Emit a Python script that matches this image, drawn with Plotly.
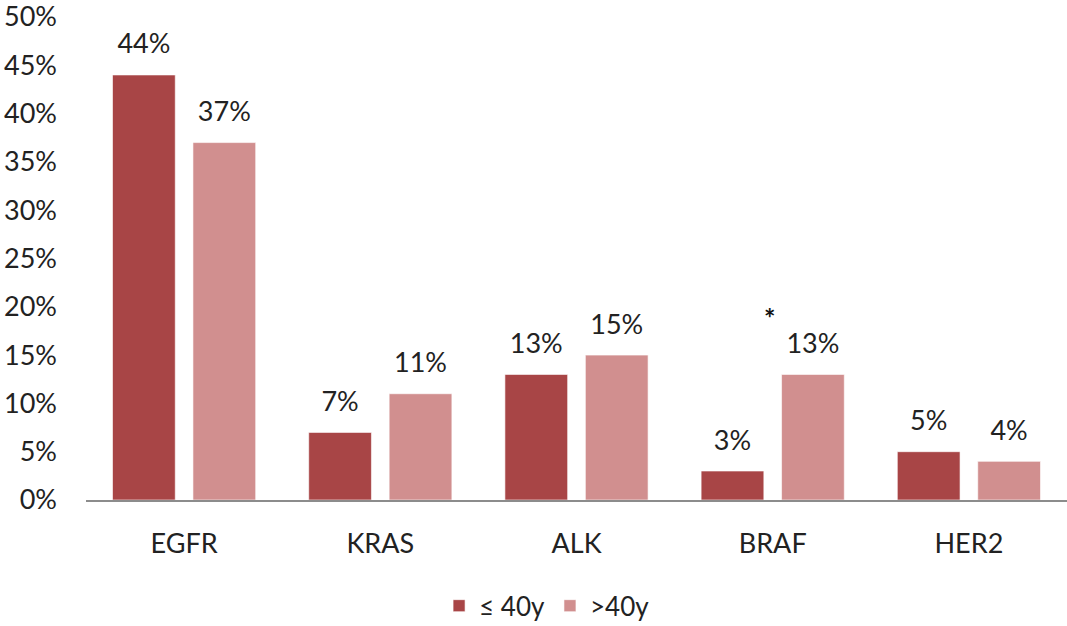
import plotly.graph_objects as go

categories = ["EGFR", "KRAS", "ALK", "BRAF", "HER2"]
young = [0.44, 0.07, 0.13, 0.03, 0.05]
old = [0.37, 0.11, 0.15, 0.13, 0.04]
series_names = ["≤ 40y", ">40y"]
y_ticks = [0, 0.05, 0.10, 0.15, 0.20, 0.25, 0.30, 0.35, 0.40, 0.45, 0.50]

FONT = "Lato"
FS = 27
dark = "#A84546"
light = "#D18F8F"

fig = go.Figure()
for i, (name, vals, col) in enumerate([(series_names[0], young, dark), (series_names[1], old, light)]):
    fig.add_trace(go.Bar(
        x=categories, y=vals, name=name, offsetgroup=str(i),
        marker=dict(color=col, line=dict(color="rgba(255,255,255,0.6)", width=1)),
        hoverinfo="skip",
    ))
for i, vals in enumerate([young, old]):
    fig.add_trace(go.Scatter(
        x=categories, y=vals, mode="markers+text", offsetgroup=str(i),
        marker=dict(size=22, color="rgba(0,0,0,0)"),
        text=[f"{v:.0%}" for v in vals], textposition="top center",
        textfont=dict(family=FONT, size=FS, color="#222"),
        showlegend=False, cliponaxis=False, hoverinfo="skip",
    ))

fig.add_annotation(x="BRAF", y=0.189, text="<b>*</b>", showarrow=False,
                   xshift=-3, font=dict(family=FONT, size=FS, color="#111"))

fig.update_layout(
    width=1067, height=626,
    margin=dict(l=86, r=0, t=17, b=126, autoexpand=False),
    paper_bgcolor="white", plot_bgcolor="white",
    barmode="group", bargap=0.18, bargroupgap=0.22,
    scattermode="group", scattergap=0.18,
    font=dict(family=FONT, size=FS, color="#222"),
    showlegend=True,
    legend=dict(orientation="h", x=0.47, xanchor="center", y=-0.219, yanchor="middle",
                font=dict(family=FONT, size=26, color="#222"), itemwidth=30),
    xaxis=dict(showline=True, linecolor="#8c8c8c", linewidth=1.5, ticks="",
               ticklabelstandoff=19, automargin=False,
               tickfont=dict(family=FONT, size=FS, color="#222"), showgrid=False),
    yaxis=dict(range=[0, 0.5], tickvals=y_ticks, tickformat=".0%", showgrid=False,
               showline=False, zeroline=False, ticks="", ticklabelstandoff=28,
               automargin=False, ticklabeloverflow="allow",
               tickfont=dict(family=FONT, size=FS, color="#222")),
)

fig.write_html(
    "out.html",
    config={"displayModeBar": False},
    post_script="document.body.style.margin='0';document.body.style.overflow='hidden';",
)
